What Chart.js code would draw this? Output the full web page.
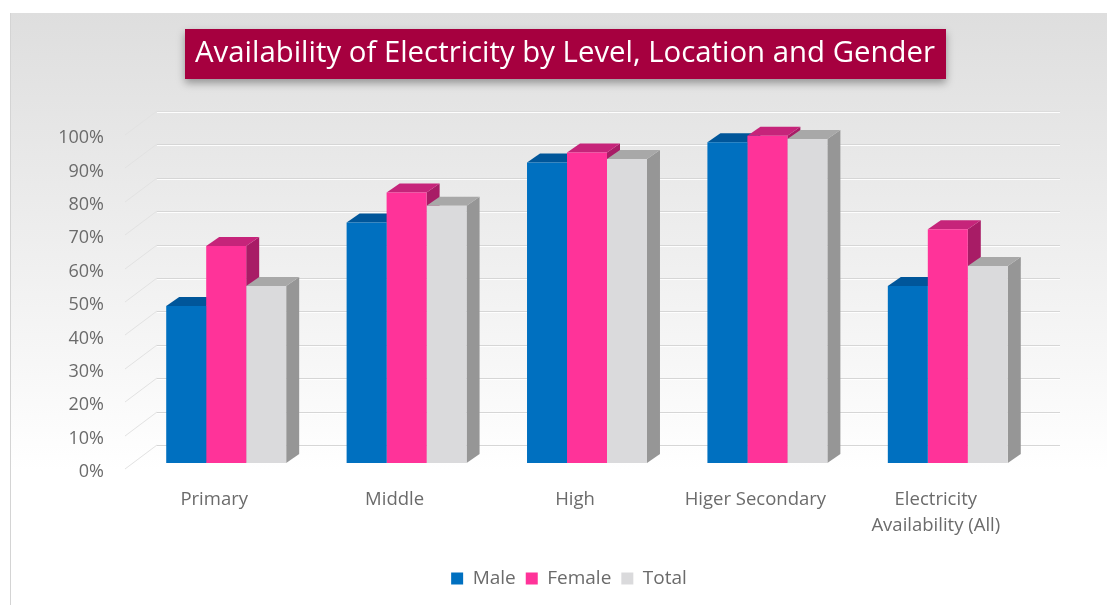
<!DOCTYPE html>
<html>
<head>
<meta charset="utf-8">
<title>Availability of Electricity</title>
<script src="https://cdn.jsdelivr.net/npm/chart.js@4.4.1/dist/chart.umd.min.js"></script>
<style>
  html, body { margin: 0; padding: 0; background: #fff; }
  #wrap { width: 1107px; height: 605px; }
</style>
</head>
<body>
<div id="wrap"><canvas id="bar-chart" width="1107" height="605"></canvas></div>
<script>
var chartTitle = 'Availability of Electricity by Level, Location and Gender';
var levels = ['Primary', 'Middle', 'High', 'Higer Secondary', ['Electricity', 'Availability (All)']];
var male = [47, 72, 90, 96, 53];
var female = [65, 81, 93, 98, 70];
var total = [53, 77, 91, 97, 59];
var yTicks = [0, 10, 20, 30, 40, 50, 60, 70, 80, 90, 100];

var font = "'Open Sans', sans-serif";
var textGrey = '#6b6b6b';

// faces for the fake 3D look: [front, top, side]
var shades = {
    Male: ['#0070c0', '#00569a', '#004a85'],
    Female: ['#ff3399', '#c6247a', '#a81c66'],
    Total: ['#dadadc', '#a8a8a8', '#969696']
};
var depthX = 13, depthY = 9;

// panel background + title box
var backdrop = {
    id: 'backdrop',
    beforeDraw: function (chart) {
        var ctx = chart.ctx;
        ctx.save();
        var g = ctx.createLinearGradient(0, 13, 0, 470);
        g.addColorStop(0, '#dedede');
        g.addColorStop(0.5, '#eeeeee');
        g.addColorStop(1, '#ffffff');
        ctx.fillStyle = g;
        ctx.fillRect(10, 13, chart.width - 10, chart.height - 13);
        ctx.strokeStyle = '#d4d4d4';
        ctx.lineWidth = 1;
        ctx.beginPath();
        ctx.moveTo(10.5, 13);
        ctx.lineTo(10.5, chart.height);
        ctx.stroke();
        ctx.restore();
    },
    afterDraw: function (chart) {
        var ctx = chart.ctx;
        ctx.save();
        ctx.shadowColor = 'rgba(0,0,0,0.35)';
        ctx.shadowBlur = 8;
        ctx.shadowOffsetY = 4;
        ctx.fillStyle = '#a6003f';
        ctx.fillRect(185, 29, 761, 50);
        ctx.restore();
        ctx.save();
        ctx.fillStyle = '#ffffff';
        ctx.font = '28px ' + font;
        var size = 28 * 740 / ctx.measureText(chartTitle).width;
        ctx.font = size + 'px ' + font;
        ctx.textAlign = 'center';
        ctx.textBaseline = 'middle';
        ctx.fillText(chartTitle, 565, 54);
        ctx.restore();
    }
};

// back wall gridlines and the slanted side-wall lines
var wall = {
    id: 'wall',
    beforeDatasetsDraw: function (chart) {
        var ctx = chart.ctx;
        var y = chart.scales.y;
        ctx.save();
        ctx.lineWidth = 1;
        yTicks.forEach(function (v) {
            var py = Math.round(y.getPixelForValue(v)) - 18;
            ctx.strokeStyle = v === 100 ? '#dcdcdc' : '#d6d6d6';
            ctx.beginPath();
            ctx.moveTo(157, py + 0.5);
            ctx.lineTo(1060, py + 0.5);
            ctx.stroke();
            ctx.strokeStyle = 'rgba(255,255,255,0.9)';
            ctx.beginPath();
            ctx.moveTo(157, py + 1.5);
            ctx.lineTo(1060, py + 1.5);
            ctx.stroke();
            ctx.strokeStyle = '#e2e2e2';
            ctx.beginPath();
            ctx.moveTo(125, py + 24);
            ctx.lineTo(157, py);
            ctx.stroke();
        });
        ctx.restore();
    }
};

// top and side faces behind each bar's front face
var depth = {
    id: 'depth',
    beforeDatasetsDraw: function (chart) {
        var ctx = chart.ctx;
        ctx.save();
        chart.data.datasets.forEach(function (ds, i) {
            var meta = chart.getDatasetMeta(i);
            var c = shades[ds.label];
            meta.data.forEach(function (bar) {
                var l = bar.x - bar.width / 2, r = bar.x + bar.width / 2;
                ctx.fillStyle = c[2];
                ctx.beginPath();
                ctx.moveTo(r, bar.y);
                ctx.lineTo(r + depthX, bar.y - depthY);
                ctx.lineTo(r + depthX, bar.base - depthY);
                ctx.lineTo(r, bar.base);
                ctx.closePath();
                ctx.fill();
                ctx.fillStyle = c[1];
                ctx.beginPath();
                ctx.moveTo(l, bar.y);
                ctx.lineTo(l + depthX, bar.y - depthY);
                ctx.lineTo(r + depthX, bar.y - depthY);
                ctx.lineTo(r, bar.y);
                ctx.closePath();
                ctx.fill();
            });
        });
        ctx.restore();
    }
};

function series(name, values) {
    return {
        label: name,
        data: values,
        backgroundColor: shades[name][0],
        borderWidth: 0,
        barPercentage: 1,
        categoryPercentage: 0.665
    };
}

var ctx = document.getElementById('bar-chart');
var chart = new Chart(ctx, {
    type: 'bar',
    data: {
        labels: levels,
        datasets: [series('Male', male), series('Female', female), series('Total', total)]
    },
    options: {
        responsive: false,
        animation: false,
        layout: { padding: { top: 129, right: 19, bottom: 7, left: 50 } },
        plugins: {
            tooltip: { enabled: false },
            legend: {
                position: 'bottom',
                labels: {
                    boxWidth: 12,
                    boxHeight: 12,
                    padding: 10,
                    color: textGrey,
                    font: { family: font, size: 19 }
                }
            }
        },
        scales: {
            x: {
                grid: { display: false, drawTicks: false },
                border: { display: false },
                afterFit: function (scale) { scale.height = 96; },
                ticks: {
                    padding: 24,
                    labelOffset: -12,
                    maxRotation: 0,
                    color: textGrey,
                    font: { family: font, size: 18.5, lineHeight: 1.4 }
                }
            },
            y: {
                min: 0,
                max: 100,
                grid: { display: false, drawTicks: false },
                border: { display: false },
                afterFit: function (scale) { scale.width = 86; },
                afterBuildTicks: function (scale) {
                    scale.ticks = yTicks.map(function (v) { return { value: v }; });
                },
                ticks: {
                    padding: 32,
                    labelOffset: 9,
                    color: textGrey,
                    font: { family: font, size: 18 },
                    callback: function (v) { return v + '%'; }
                }
            },
            // empty strip on the right so the plot ends where the back wall does
            pad: {
                position: 'right',
                grid: { display: false, drawTicks: false },
                border: { display: false },
                ticks: { display: false },
                afterFit: function (scale) { scale.width = 50; }
            }
        }
    },
    plugins: [backdrop, wall, depth]
});
</script>
</body>
</html>
